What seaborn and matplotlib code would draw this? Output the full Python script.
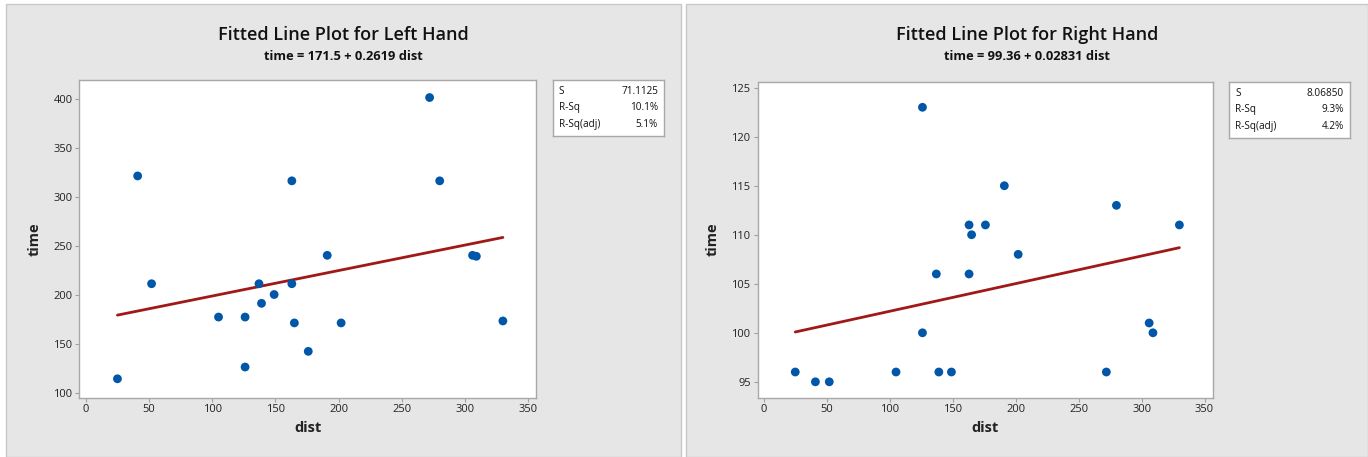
import matplotlib
matplotlib.use("Agg")
import matplotlib.pyplot as plt
import seaborn as sns
import pandas as pd
from matplotlib.patches import Rectangle

# distances shared by both hands
dist = [25, 41, 52, 105, 126, 126, 137, 139, 149, 163,
        163, 165, 176, 191, 202, 272, 280, 306, 309, 330]
time_left = [114, 321, 211, 177, 177, 126, 211, 191, 200, 316,
             211, 171, 142, 240, 171, 401, 316, 240, 239, 173]
time_right = [96, 95, 95, 96, 123, 100, 106, 96, 96, 111,
              106, 110, 111, 115, 108, 96, 113, 101, 100, 111]

titles = ["Fitted Line Plot for Left Hand", "Fitted Line Plot for Right Hand"]
equations = ["time = 171.5 + 0.2619 dist", "time = 99.36 + 0.02831 dist"]
stat_names = ["S", "R-Sq", "R-Sq(adj)"]
stats_left = ["71.1125", "10.1%", "5.1%"]
stats_right = ["8.06850", "9.3%", "4.2%"]

yticks_left = [100, 150, 200, 250, 300, 350, 400]
yticks_right = [95, 100, 105, 110, 115, 120, 125]
xticks = [0, 50, 100, 150, 200, 250, 300, 350]

sns.set_style("white")
plt.rcParams["font.family"] = ["Open Sans", "DejaVu Sans"]

W, H = 1368, 457
fig = plt.figure(figsize=(W / 100, H / 100), dpi=100)
fig.patch.set_facecolor("white")


def px(x0, y0, x1, y1):
    # pixel box (top-left origin) -> figure fraction rect
    return [x0 / W, 1 - y1 / H, (x1 - x0) / W, (y1 - y0) / H]


# grey panel backgrounds
for (x0, x1) in [(6, 681), (686, 1368)]:
    fig.patches.append(Rectangle((x0 / W, 0), (x1 - x0) / W, 1 - 4 / H,
                                 transform=fig.transFigure, facecolor="#e6e6e6",
                                 edgecolor="#c8c8c8", lw=1, zorder=-5))

panels = [
    dict(df=pd.DataFrame({"dist": dist, "time": time_left}), box=(79.4, 80, 536, 397.5),
         xlim=(-5.1, 356.2), ylim=(94.9, 418.9), yticks=yticks_left, stats=stats_left,
         leg=(553, 80, 663.5, 135.5), cx=343.5, ylx=35),
    dict(df=pd.DataFrame({"dist": dist, "time": time_right}), box=(757.6, 81.8, 1212.9, 397.5),
         xlim=(-4.9, 356.6), ylim=(93.4, 125.6), yticks=yticks_right, stats=stats_right,
         leg=(1229, 81.8, 1350, 137.9), cx=1027, ylx=713),
]

for i, p in enumerate(panels):
    ax = fig.add_axes(px(*p["box"]))
    sns.regplot(data=p["df"], x="dist", y="time", ci=None, ax=ax,
                scatter_kws=dict(s=40, color="#0056a8", alpha=1, edgecolor="none", zorder=3),
                line_kws=dict(color="#a01818", lw=2, zorder=2))
    ax.set_xlim(*p["xlim"])
    ax.set_ylim(*p["ylim"])
    ax.set_xticks(xticks)
    ax.set_yticks(p["yticks"])
    ax.set_facecolor("white")
    for s in ax.spines.values():
        s.set_color("#a8a8a8")
        s.set_linewidth(1)
    ax.tick_params(direction="out", length=3, width=0.8, color="#a0a0a0",
                   labelsize=8, labelcolor="#222222", pad=2, left=True, bottom=True)
    ax.set_xlabel("dist", fontsize=10.5, fontweight="bold", color="#222222", labelpad=4)
    ax.set_ylabel("")
    fig.text(p["ylx"] / W, 1 - ((p["box"][1] + p["box"][3]) / 2) / H, "time",
             rotation=90, ha="center", va="center", fontsize=10.5, fontweight="bold",
             color="#222222")

    fig.text(p["cx"] / W, 1 - 35 / H, titles[i], ha="center", va="center",
             fontsize=13, fontweight="semibold", color="#111111")
    fig.text(p["cx"] / W, 1 - 57 / H, equations[i], ha="center", va="center",
             fontsize=9.3, fontweight="bold", color="#111111")

    # summary box
    lx0, ly0, lx1, ly1 = p["leg"]
    lax = fig.add_axes(px(lx0, ly0, lx1, ly1))
    lax.set_xticks([])
    lax.set_yticks([])
    lax.set_facecolor("white")
    for s in lax.spines.values():
        s.set_color("#a8a8a8")
        s.set_linewidth(1)
    for j, (name, val) in enumerate(zip(stat_names, p["stats"])):
        yy = 0.8 - j * 0.3
        lax.text(0.05, yy, name, ha="left", va="center", fontsize=7.2, color="#111111",
                 transform=lax.transAxes)
        lax.text(0.95, yy, val, ha="right", va="center", fontsize=7.2, color="#111111",
                 transform=lax.transAxes)

fig.savefig("out.png", dpi=100, facecolor=fig.get_facecolor())
